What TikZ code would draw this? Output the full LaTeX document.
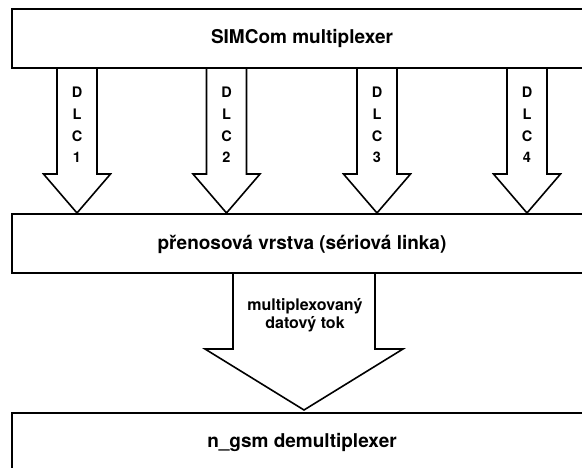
\documentclass[tikz,border=0pt]{standalone}
\usepackage{fontspec}
\setmainfont{TeX Gyre Heros}
\begin{document}
\begin{tikzpicture}[x=1pt,y=-1pt,
  box/.style={draw=black, line width=2pt, fill=white, minimum width=580pt, minimum height=59pt, inner sep=0pt,
    font=\fontsize{19}{22}\selectfont\bfseries},
  blockarrow/.style={draw=black, line width=1.6pt, line join=miter},
  dlclabel/.style={align=center, inner sep=0pt, font=\fontsize{14.5}{21.7}\selectfont\bfseries},
  flowlabel/.style={align=center, inner sep=0pt, font=\fontsize{16}{17.5}\selectfont\bfseries}]
\useasboundingbox (0,0) rectangle (582,468);
\node[box] (mux) at (302,38.5) {SIMCom multiplexer};
\node[box] (serial) at (302,244) {přenosová vrstva (sériová linka)};
\node[box] (demux) at (302,442) {n\_gsm demultiplexer};
% DLC arrows
\foreach \cx/\n in {77/1,226.5/2,377/3,527/4}{
  \coordinate (s\n) at (\cx,68);
  \draw[blockarrow] (\cx-20,68) -- (\cx-20,174) -- (\cx-33.5,174) -- (\cx,213) -- (\cx+33.5,174) -- (\cx+20,174) -- (\cx+20,68);
  \node[dlclabel] (dlc\n) at (\cx,125) {D\\L\\C\\\n};
}
% big arrow
\draw[blockarrow] (233,273) -- (233,349) -- (205,349) -- (304,410) -- (403,349) -- (375,349) -- (375,273);
\node[flowlabel] (flow) at (305,315) {multiplexovaný\\datový tok};
\end{tikzpicture}
\end{document}
